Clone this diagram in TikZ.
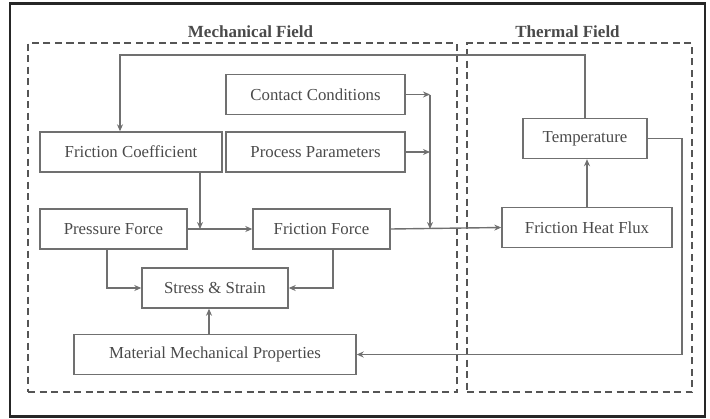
\documentclass[tikz,border=0pt]{standalone}
\usepackage{fontspec}
\setmainfont{Liberation Serif}
\usepackage{tikz}
\usetikzlibrary{arrows.meta, positioning, calc}

\definecolor{boxgray}{HTML}{707070}
\definecolor{txtgray}{HTML}{4A4A4A}
\definecolor{dashgray}{HTML}{555555}

\begin{document}
\begin{tikzpicture}[
    x=1pt, y=-1pt,
    box/.style={rectangle, draw=boxgray, line width=1.4pt, minimum height=40pt, inner sep=2pt, align=center, text=txtgray, font=\fontsize{16.8}{19}\selectfont},
    fieldbox/.style={rectangle, draw=dashgray, line width=2pt, dash pattern=on 7pt off 4.5pt, inner sep=0pt},
    title/.style={font=\fontsize{17}{20}\selectfont\bfseries, text=txtgray, label distance=1pt},
    arrow/.style={-{Stealth[length=7pt, width=6pt]}, draw=boxgray, line width=1.4pt},
]

\useasboundingbox (0,0) rectangle (710,418);
\draw[line width=2.4pt, draw=black!85] (10,3.5) rectangle (705,416.5);

% field frames
\node[fieldbox, minimum width=429pt, minimum height=349pt, label={[title, xshift=8pt]above:Mechanical Field}] (mech) at (242.5,217.5) {};
\node[fieldbox, minimum width=225pt, minimum height=349pt, label={[title, xshift=-12pt]above:Thermal Field}] (therm) at (579.5,217.5) {};

% mechanical field
\node[box, minimum width=179pt] (contact) at (315.5,94.5) {Contact Conditions};
\node[box, minimum width=179pt] (process) at (315.5,152) {Process Parameters};
\node[box, minimum width=182pt] (fcoef) at (131,152) {Friction Coefficient};
\node[box, minimum width=147pt] (pressure) at (113.5,229) {Pressure Force};
\node[box, minimum width=137pt] (fforce) at (321.5,229) {Friction Force};
\node[box, minimum width=146pt] (stress) at (215,288) {Stress \& Strain};
\node[box, minimum width=282pt] (material) at (215,354.5) {Material Mechanical Properties};

% thermal field
\node[box, minimum width=124pt] (temp) at (585,138.5) {Temperature};
\node[box, minimum width=170pt] (heatflux) at (587,227.5) {Friction Heat Flux};

% helper points
\coordinate (merge) at (430,94.5);
\coordinate (join) at (430,229);
\coordinate (coefjoin) at (200,229);
\coordinate (retcorner) at (682,354.5);

\draw[arrow] (temp.north) -- ++(0,-63) -| ([xshift=-11pt]fcoef.north);
\draw[arrow] (contact.east) -- (merge);
\draw[arrow] (process.east) -- (process.east -| merge);
\draw[arrow] (merge) -- (join);
\draw[arrow] ([xshift=69pt]fcoef.south) -- (coefjoin);

\draw[arrow] (pressure.east) -- (fforce.west);
\draw[arrow] (fforce.east) -- (heatflux.west);
\draw[arrow] (heatflux.north) -- (temp.south -| heatflux.north);
\draw[arrow] (temp.east) -| (retcorner) -- (material.east);

\draw[arrow] ([xshift=-6.5pt]pressure.south) |- (stress.west);
\draw[arrow] ([xshift=11.5pt]fforce.south) |- (stress.east);
\draw[arrow] ([xshift=-6pt]material.north) -- ([xshift=-6pt]stress.south);

\end{tikzpicture}
\end{document}
